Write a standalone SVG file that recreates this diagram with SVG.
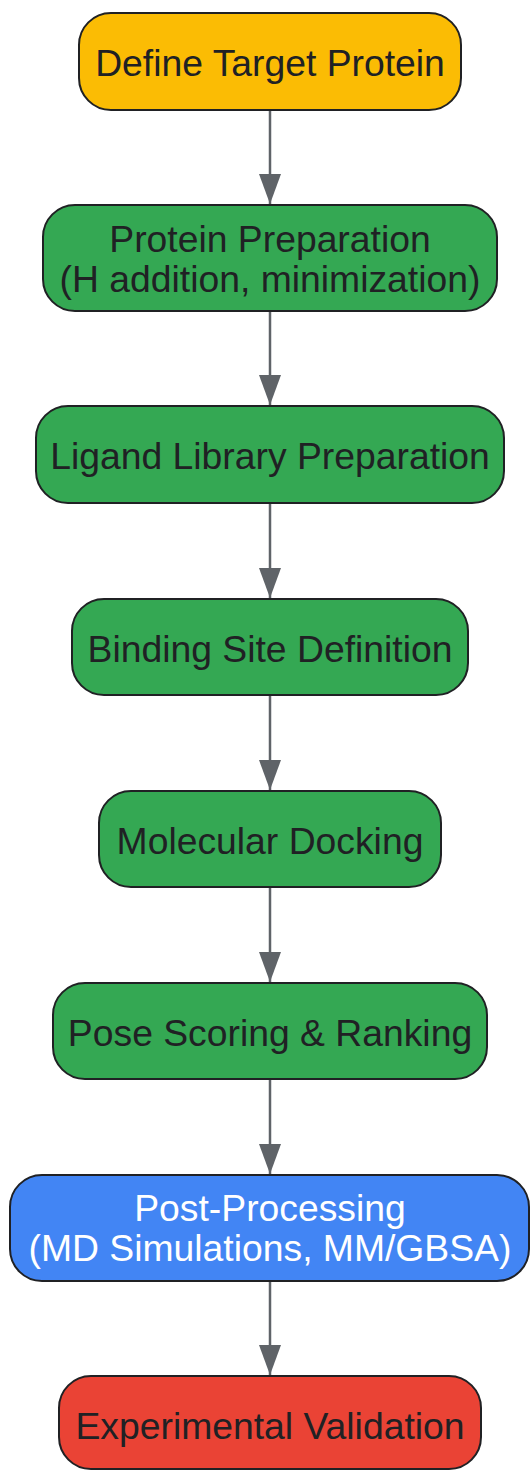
<svg xmlns="http://www.w3.org/2000/svg" width="530" height="1470" viewBox="0 0 530 1470">
<style>
.n{stroke:#202124;stroke-width:2}
.t{font-family:"Liberation Sans",Arial,sans-serif;font-size:37.3px;text-anchor:middle;fill:#202124}
.w{fill:#ffffff}
.e{stroke:#5f6368;stroke-width:2.5;fill:none}
.y{fill:#fbbc04}.g{fill:#34a853}.b{fill:#4285f4}.r{fill:#ea4335}
</style>
<defs>
<marker id="ah" markerUnits="userSpaceOnUse" markerWidth="30" markerHeight="22" refX="30" refY="11" orient="auto" viewBox="0 0 30 22">
<path d="M0,0 L30,11 L0,22 Z" fill="#5f6368"/>
</marker>
</defs>
<g id="connectors">
<line class="e" x1="270" y1="110" x2="270" y2="204" marker-end="url(#ah)"/>
<line class="e" x1="270" y1="311" x2="270" y2="405" marker-end="url(#ah)"/>
<line class="e" x1="270" y1="503" x2="270" y2="598" marker-end="url(#ah)"/>
<line class="e" x1="270" y1="695" x2="270" y2="790" marker-end="url(#ah)"/>
<line class="e" x1="270" y1="887" x2="270" y2="982" marker-end="url(#ah)"/>
<line class="e" x1="270" y1="1079" x2="270" y2="1174" marker-end="url(#ah)"/>
<line class="e" x1="270" y1="1281" x2="270" y2="1375" marker-end="url(#ah)"/>
</g>
<g id="n1">
<rect class="n y" x="79" y="13" width="382" height="97" rx="32"/>
<text class="t" x="270" y="76">Define Target Protein</text>
</g>
<g id="n2">
<rect class="n g" x="43" y="205" width="454" height="106" rx="32"/>
<text class="t" x="270" y="252">Protein Preparation</text>
<text class="t" x="270" y="292">(H addition, minimization)</text>
</g>
<g id="n3">
<rect class="n g" x="36" y="406" width="468" height="97" rx="32"/>
<text class="t" x="270" y="469">Ligand Library Preparation</text>
</g>
<g id="n4">
<rect class="n g" x="72" y="599" width="396" height="96" rx="32"/>
<text class="t" x="270" y="662">Binding Site Definition</text>
</g>
<g id="n5">
<rect class="n g" x="99" y="791" width="342" height="96" rx="32"/>
<text class="t" x="270" y="854">Molecular Docking</text>
</g>
<g id="n6">
<rect class="n g" x="53" y="983" width="434" height="96" rx="32"/>
<text class="t" x="270" y="1046">Pose Scoring &amp; Ranking</text>
</g>
<g id="n7">
<rect class="n b" x="10" y="1175" width="519" height="106" rx="32"/>
<text class="t w" x="270" y="1221">Post-Processing</text>
<text class="t w" x="270" y="1261">(MD Simulations, MM/GBSA)</text>
</g>
<g id="n8">
<rect class="n r" x="59" y="1376" width="422" height="93" rx="32"/>
<text class="t" x="270" y="1439">Experimental Validation</text>
</g>
</svg>
